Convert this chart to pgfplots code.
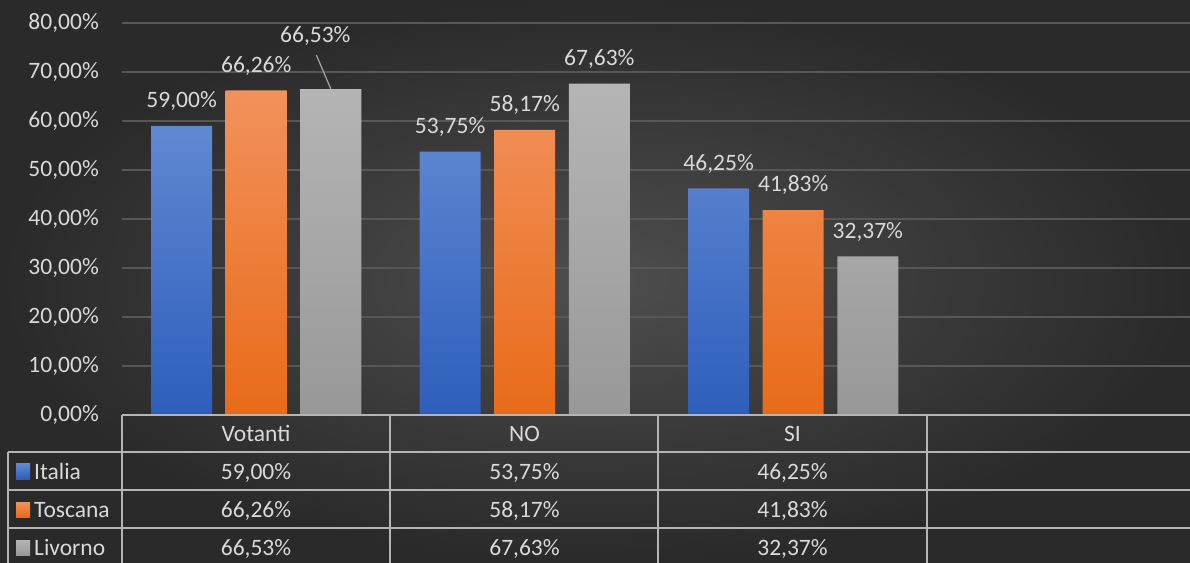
\documentclass[border=0pt]{standalone}
\usepackage{pgfplots}
\pgfplotsset{compat=1.18}
\usepackage{pgfplotstable}
\usepackage{fontspec}
\setmainfont{Carlito}

\definecolor{bgin}{HTML}{4E4E4E}
\definecolor{bgout}{HTML}{2A2A2A}
\definecolor{txt}{HTML}{D9D9D9}
\definecolor{gridc}{HTML}{575757}
\definecolor{tline}{HTML}{B4B4B4}
\definecolor{itatop}{HTML}{6088D2}
\definecolor{itabot}{HTML}{2E5EBC}
\definecolor{tostop}{HTML}{F2915C}
\definecolor{tosbot}{HTML}{E86B18}
\definecolor{livtop}{HTML}{B5B5B5}
\definecolor{livbot}{HTML}{989898}
\definecolor{leader}{HTML}{A6A6A6}

\pgfplotstableread{
x italia toscana livorno
0 59.00 66.26 66.53
1 53.75 58.17 67.63
2 46.25 41.83 32.37
}\dati

\newcommand\bigfont{\fontsize{23.5}{28}\selectfont}
\newcommand\pct[1]{\pgfmathprintnumber[fixed,fixed zerofill,precision=2,use comma,assume math mode=true]{#1}\%}

\begin{document}
\begin{tikzpicture}[x=1pt,y=1pt]
\shade[inner color=bgin, outer color=bgout] (0,0) rectangle (1190,562);
\useasboundingbox (0,0) rectangle (1190,562);
\begin{axis}[
  at={(122pt,147pt)}, anchor=south west,
  scale only axis, width=1074pt, height=392pt,
  xmin=-0.5, xmax=3.5, ymin=0, ymax=80,
  ybar=13.6pt, bar width=61pt,
  axis line style={draw=none},
  xtick=\empty,
  ytick={0,10,...,80},
  ymajorgrids, grid style={gridc, line width=1.5pt},
  major tick length=0pt,
  yticklabel style={font=\bigfont, text=txt, inner sep=0pt, xshift=-23pt},
  yticklabel={\pct{\tick}},
  nodes near coords={\pct{\pgfplotspointmeta}},
  every node near coord/.append style={font=\bigfont, text=txt, inner sep=0pt, yshift=15pt},
  clip=false,
]
\addplot[draw=none, top color=itatop, bottom color=itabot] table[x=x,y=italia]{\dati};
\addplot[draw=none, top color=tostop, bottom color=tosbot] table[x=x,y=toscana]{\dati};
\addplot[draw=none, top color=livtop, bottom color=livbot,
  coordinate style/.condition={x==0}{xshift=-15.5pt, yshift=28pt}] table[x=x,y=livorno]{\dati};
\draw[leader, line width=1.2pt] ([xshift=74.6pt]axis cs:0,66.53) -- ++(-14.5pt,34pt);
\end{axis}

% data table
\begin{scope}[tline, line width=1.4pt]
\draw (122,147) -- (1200,147);
\draw (8,110) -- (1200,110);
\draw (8,72) -- (1200,72);
\draw (8,34) -- (1200,34);
\draw (8,110) -- (8,-5);
\foreach \xx in {122,390,658,927} \draw (\xx,147) -- (\xx,-5);
\end{scope}

\begin{scope}[every node/.style={font=\bigfont, text=txt, inner sep=0pt, anchor=base}]
\node at (256,121) {Votanti};
\node at (524.5,121) {NO};
\node at (792.5,121) {SI};
\node at (256,83) {59,00\%};
\node at (524.5,83) {53,75\%};
\node at (792.5,83) {46,25\%};
\node at (256,45) {66,26\%};
\node at (524.5,45) {58,17\%};
\node at (792.5,45) {41,83\%};
\node at (256,7) {66,53\%};
\node at (524.5,7) {67,63\%};
\node at (792.5,7) {32,37\%};
\node[anchor=base west] at (34,83) {Italia};
\node[anchor=base west] at (34,45) {Toscana};
\node[anchor=base west] at (34,7) {Livorno};
\end{scope}
\shade[top color=itatop, bottom color=itabot] (16,83) rectangle (30,98);
\shade[top color=tostop, bottom color=tosbot] (16,45) rectangle (30,60);
\shade[top color=livtop, bottom color=livbot] (16,7) rectangle (30,22);
\end{tikzpicture}
\end{document}
